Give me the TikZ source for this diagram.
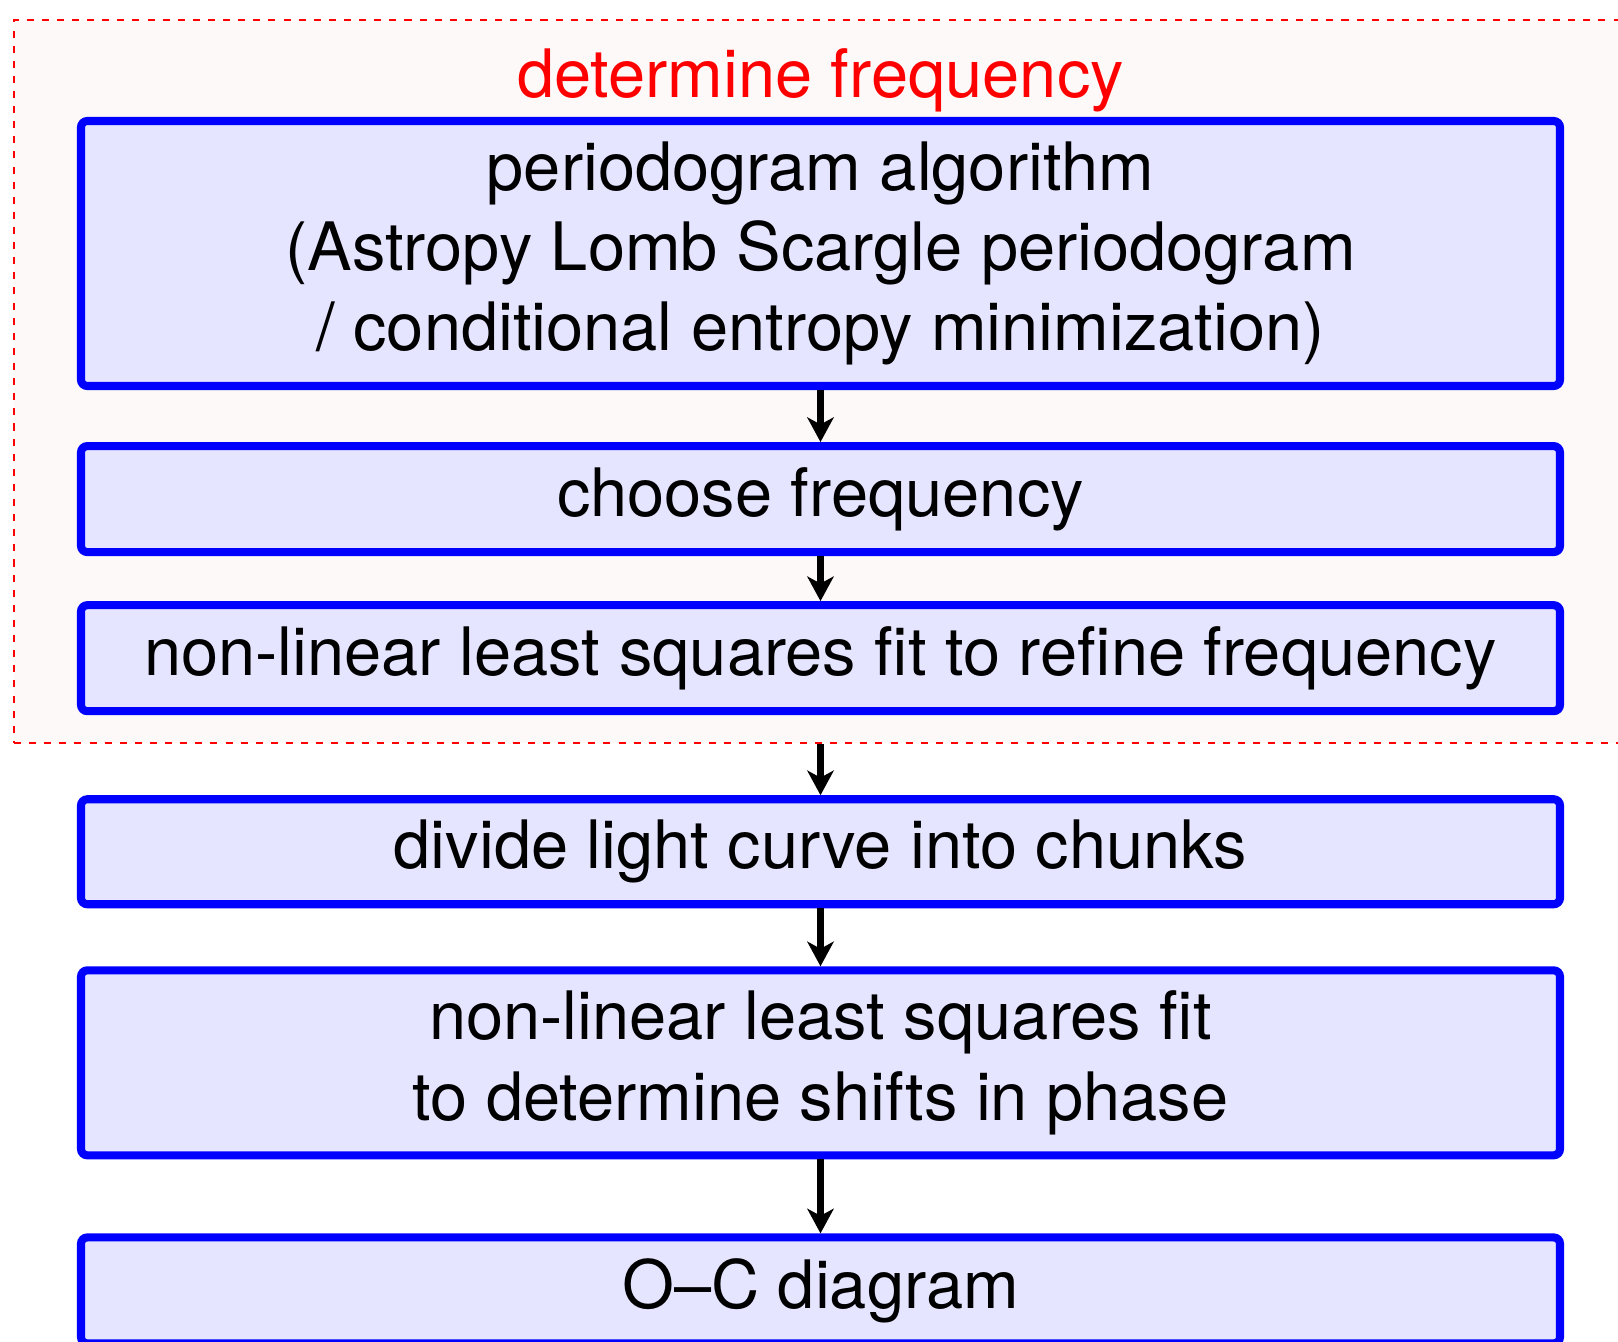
\documentclass[tikz,border=0pt]{standalone}
\usepackage{fontspec}
\setmainfont{TeX Gyre Heros}
\usepackage{tikz}
\usetikzlibrary{arrows.meta, positioning}
\usepackage{xcolor}
\definecolor{boxblue}{RGB}{0, 0, 255}
\definecolor{boxfill}{RGB}{229, 229, 255}
\definecolor{groupfill}{RGB}{253, 249, 249}

\begin{document}
\begin{tikzpicture}[
    stepbox/.style={draw=boxblue, fill=boxfill, line width=2.3pt,
      rounded corners=1.8pt, minimum width=14.79cm, inner sep=0pt,
      align=center, font=\fontsize{19}{22.8}\selectfont},
    flowarrow/.style={-{Stealth[length=7pt, width=7.5pt, inset=2pt]},
      line width=2pt}]
  \useasboundingbox (0,0) rectangle (16.18,-13.42);
  \clip (0,0) rectangle (16.18,-13.42);
  %--- determine frequency -----------------------------------------------------
  \node[draw=red, fill=groupfill, line width=0.6pt,
    dash pattern=on 2pt off 2.3pt, inner sep=0pt,
    minimum width=16.13cm, minimum height=7.23cm] (freqgroup) at (8.205,-3.815) {};
  \node[anchor=base, red, font=\fontsize{19}{22.8}\selectfont]
    (grouptitle) at (8.205,-0.97) {determine frequency};
  \node[stepbox, minimum height=2.65cm] (periodo) at (8.205,-2.535)
    {periodogram algorithm\\(Astropy Lomb Scargle periodogram\\/ conditional entropy minimization)};
  \node[stepbox, minimum height=1.06cm, below=0.52cm of periodo] (choose)
    {choose frequency};
  \node[stepbox, minimum height=1.06cm, below=0.45cm of choose] (refine)
    {non-linear least squares fit to refine frequency};
  %--- phase shifts -------------------------------------------------------------
  \node[stepbox, minimum height=1.05cm, below=0.80cm of refine] (chunks)
    {divide light curve into chunks};
  \node[stepbox, minimum height=1.85cm, below=0.58cm of chunks] (phasefit)
    {non-linear least squares fit\\to determine shifts in phase};
  \node[stepbox, minimum height=1.06cm, below=0.74cm of phasefit] (ocdiag)
    {O--C diagram};
  % arrows
  \draw[flowarrow] (periodo) -- (choose);
  \draw[flowarrow] (choose) -- (refine);
  \draw[flowarrow] (freqgroup.south) -- (chunks.north);
  \draw[flowarrow] (chunks) -- (phasefit);
  \draw[flowarrow] (phasefit) -- (ocdiag);
\end{tikzpicture}
\end{document}
